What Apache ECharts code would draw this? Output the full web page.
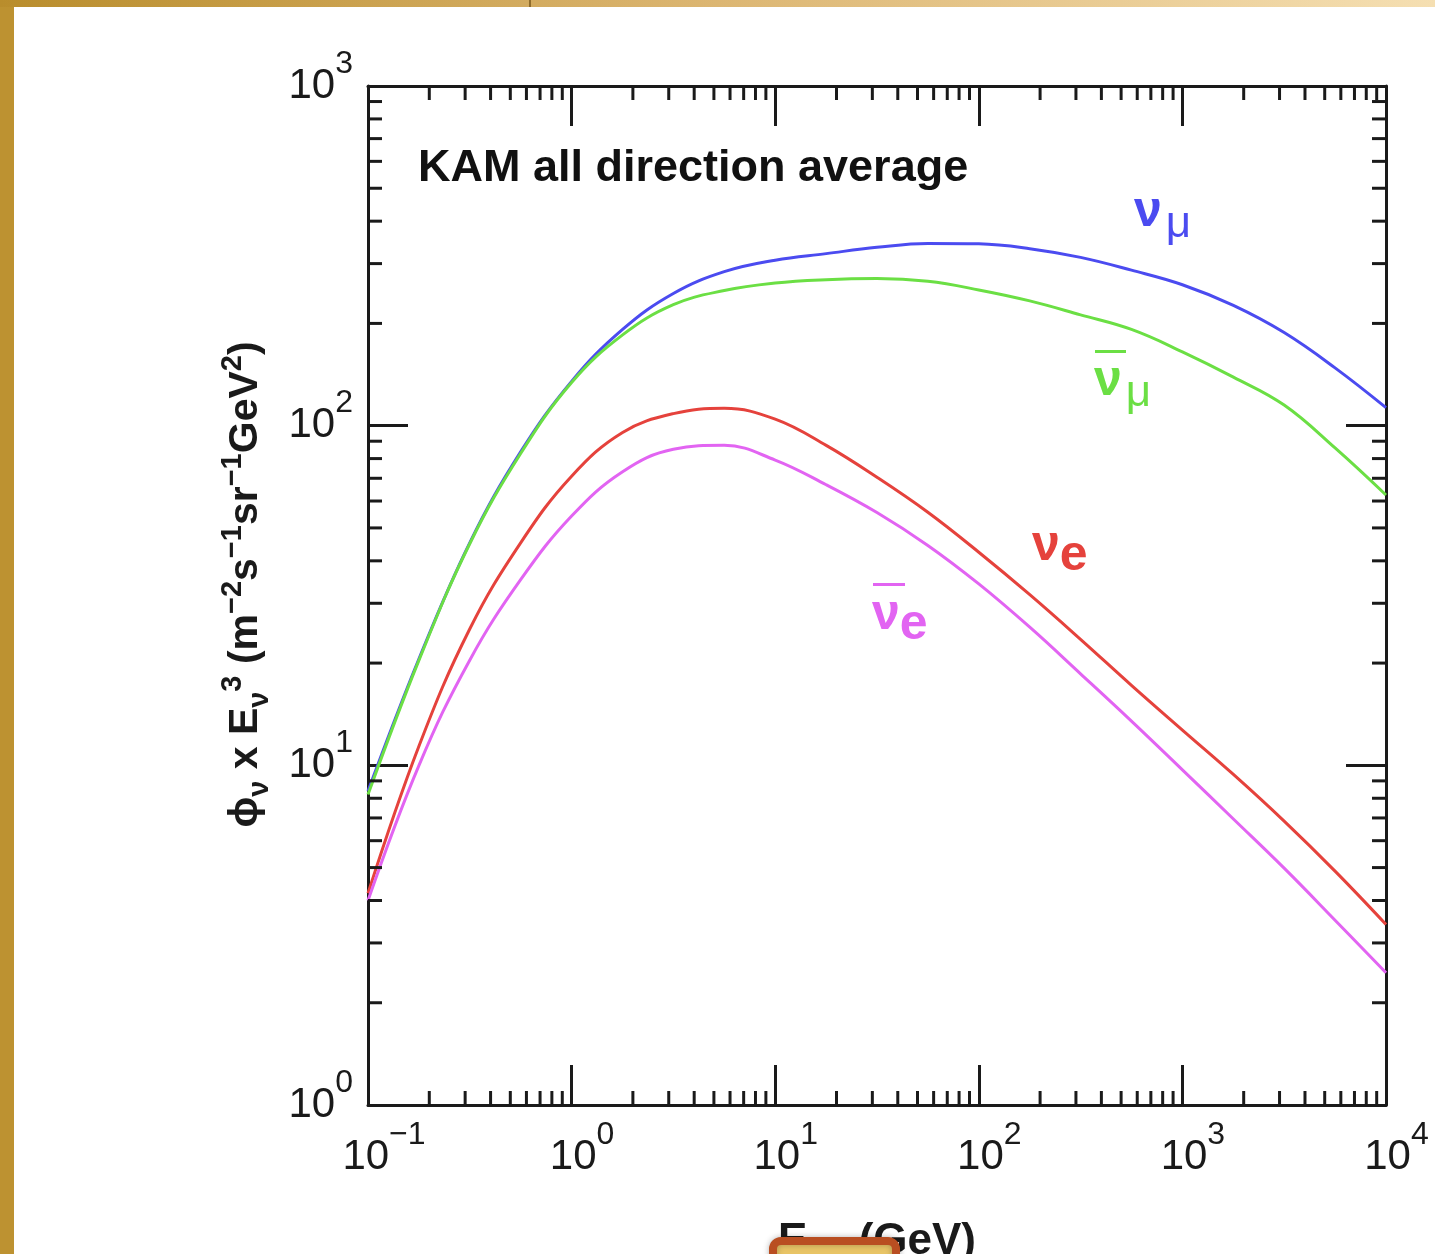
<!DOCTYPE html>
<html><head><meta charset="utf-8">
<script src="https://cdn.jsdelivr.net/npm/echarts@6/dist/echarts.min.js"></script>
<style>html,body{margin:0;padding:0;background:#fff;}#c{width:1435px;height:1254px;}</style>
</head><body><div id="c"></div>
<script>
// ---- data ----
const energies = [0.1, 0.178, 0.316, 0.562, 1, 1.78, 3.16, 5.62, 10, 17.8, 31.6, 56.2, 100, 178, 316, 562, 1000, 1780, 3160, 5620, 10000];
const numu    = [8.4, 20.6, 45.2, 83.7, 135, 192, 245, 284, 307, 321, 335, 344, 343, 332, 313, 287, 260, 226, 188, 148, 113];
const numubar = [8.2, 20.4, 44.9, 82.8, 134, 185, 227, 250, 263, 269, 271, 266, 251, 233, 212, 192, 165, 139, 115, 86, 62.5];
const nue     = [4.2, 11.4, 25.2, 45.2, 71.0, 95.5, 108.5, 112.5, 104.5, 87.5, 70.5, 55.6, 42.4, 31.8, 23.5, 17.2, 12.7, 9.4, 6.85, 4.88, 3.40];
const nuebar  = [4.0, 10.0, 20.4, 35.2, 54.2, 73.2, 85.2, 87.5, 79.2, 67.0, 55.5, 44.4, 34.2, 25.5, 18.6, 13.5, 9.7, 6.95, 4.98, 3.50, 2.45];
const xTickExp = ['\u22121', '0', '1', '2', '3', '4'];
const yTickExp = ['0', '1', '2', '3'];
const xMinorTicks = [0.2,0.3,0.4,0.5,0.6,0.7,0.8,0.9, 2,3,4,5,6,7,8,9, 20,30,40,50,60,70,80,90, 200,300,400,500,600,700,800,900, 2000,3000,4000,5000,6000,7000,8000,9000];
const yMinorTicks = [2,3,4,5,6,7,8,9, 20,30,40,50,60,70,80,90, 200,300,400,500,600,700,800,900];
const xMin = 0.1, xMax = 10000, yMin = 1, yMax = 1000;

const BLUE = '#4b4bf0', GREEN = '#6bdf44', RED = '#e5423c', MAG = '#e264f2';
const INK = '#1a1a1a';
const FONT = '"Liberation Sans", Arial, Helvetica, sans-serif';

const chart = echarts.init(document.getElementById('c'), null, {renderer: 'canvas'});

const tickRich = {
  sp: {width: 21, fontSize: 42, lineHeight: 76},
  sp2: {width: 32, fontSize: 42, lineHeight: 76},
  b: {fontSize: 42, fontFamily: FONT, color: INK, lineHeight: 76, verticalAlign: 'middle'},
  s: {fontSize: 32, fontFamily: FONT, color: INK, lineHeight: 32, verticalAlign: 'top'}
};

function axisCommon(extra) {
  return Object.assign({
    type: 'log', logBase: 10,
    axisLine: {show: true, onZero: false, lineStyle: {color: INK, width: 3}},
    axisTick: {show: true, inside: true, length: 40, lineStyle: {color: INK, width: 3}},
    minorTick: {show: false},
    splitLine: {show: false},
    minorSplitLine: {show: false}
  }, extra);
}

function minorSeries(values, dir) {
  return {
    type: 'custom', silent: true, clip: false, z: 6,
    xAxisIndex: 0, yAxisIndex: 0,
    data: values.map(v => dir === 'x' ? [v, yMin] : [xMin, v]),
    renderItem: function (params, api) {
      const style = {stroke: INK, lineWidth: 3};
      if (dir === 'x') {
        const v = api.value(0);
        const b = api.coord([v, yMin]);
        const t = api.coord([v, yMax]);
        return {type: 'group', children: [
          {type: 'line', shape: {x1: b[0], y1: b[1], x2: b[0], y2: b[1] - 14}, style: style},
          {type: 'line', shape: {x1: t[0], y1: t[1], x2: t[0], y2: t[1] + 14}, style: style}
        ]};
      } else {
        const v = api.value(1);
        const l = api.coord([xMin, v]);
        const r = api.coord([xMax, v]);
        return {type: 'group', children: [
          {type: 'line', shape: {x1: l[0], y1: l[1], x2: l[0] + 14, y2: l[1]}, style: style},
          {type: 'line', shape: {x1: r[0], y1: r[1], x2: r[0] - 14, y2: r[1]}, style: style}
        ]};
      }
    }
  };
}

function lineSeries(name, values, color) {
  return {
    name: name, type: 'line', xAxisIndex: 0, yAxisIndex: 0,
    data: energies.map((e, i) => [e, values[i]]),
    smooth: 0.4, showSymbol: false, symbol: 'none',
    lineStyle: {color: color, width: 3}, z: 4
  };
}

const curveLabelRich = (color) => ({
  n: {fontSize: 50, fontWeight: 'bold', fontFamily: FONT, fill: color, lineHeight: 60, verticalAlign: 'top'},
  s: {fontSize: 44, fontWeight: 'normal', fontFamily: FONT, fill: color, lineHeight: 44, verticalAlign: 'bottom', padding: [0, 0, 0, 4]},
  e: {fontSize: 50, fontWeight: 'bold', fontFamily: FONT, fill: color, lineHeight: 54, verticalAlign: 'bottom'}
});

const option = {
  backgroundColor: '#ffffff',
  animation: false,
  grid: {left: 368, top: 86, right: 49, bottom: 149, containLabel: false, outerBoundsMode: 'none'},
  xAxis: [
    axisCommon({
      position: 'bottom', min: xMin, max: xMax,
      axisLabel: {
        show: true, margin: 14, fontFamily: FONT, color: INK, rich: tickRich,
        formatter: function (v) {
          const i = Math.round(Math.log10(v)) + 1;
          const e = xTickExp[i];
          return (i === 0 ? '{sp2| }' : '{sp| }') + '{b|10}{s|' + e + '}';
        }
      },
      name: '{t|E}{sub|\u03bd}{t|  (GeV)}',
      nameLocation: 'middle', nameGap: 115,
      nameTextStyle: {
        rich: {
          t: {fontSize: 44, fontWeight: 'bold', fontFamily: FONT, color: INK, lineHeight: 50, verticalAlign: 'top'},
          sub: {fontSize: 34, fontWeight: 'bold', fontFamily: FONT, color: INK, lineHeight: 34, verticalAlign: 'bottom', padding: [0, 7, 0, 1]}
        }
      }
    }),
    axisCommon({position: 'top', min: xMin, max: xMax, axisLabel: {show: false}})
  ],
  yAxis: [
    axisCommon({
      position: 'left', min: yMin, max: yMax,
      axisLabel: {
        show: true, margin: 15, fontFamily: FONT, color: INK, rich: tickRich,
        formatter: function (v) {
          const i = Math.round(Math.log10(v));
          return '{b|10}{s|' + yTickExp[i] + '}';
        }
      },
      name: '{t|\u03d5}{sub|\u03bd}{t| x E}{sub|\u03bd}{sup|3}{t| (m}{sup|\u22122}{t|s}{sup|\u22121}{t|sr}{sup|\u22121}{t|GeV}{sup|2}{t|)}',
      nameLocation: 'middle', nameRotate: 90, nameGap: 94,
      nameTextStyle: {
        padding: [0, 0, 0, 22],
        rich: {
          t: {fontSize: 41, fontWeight: 'bold', fontFamily: FONT, color: INK, lineHeight: 56, verticalAlign: 'middle'},
          sup: {fontSize: 29, fontWeight: 'bold', fontFamily: FONT, color: INK, lineHeight: 29, verticalAlign: 'top'},
          sub: {fontSize: 29, fontWeight: 'bold', fontFamily: FONT, color: INK, lineHeight: 29, verticalAlign: 'bottom'}
        }
      }
    }),
    axisCommon({position: 'right', min: yMin, max: yMax, axisLabel: {show: false}})
  ],
  series: [
    lineSeries('\u03bd\u03bc', numu, BLUE),
    lineSeries('anti-\u03bd\u03bc', numubar, GREEN),
    lineSeries('\u03bde', nue, RED),
    lineSeries('anti-\u03bde', nuebar, MAG),
    minorSeries(xMinorTicks, 'x'),
    minorSeries(yMinorTicks, 'y')
  ],
  graphic: [
    {type: 'rect', z: 100, shape: {x: 0, y: 0, width: 14, height: 1254}, style: {fill: '#bd9231'}},
    {type: 'rect', z: 100, shape: {x: 0, y: 0, width: 1435, height: 7},
      style: {fill: new echarts.graphic.LinearGradient(0, 0, 1, 0, [{offset: 0, color: '#b98d2c'}, {offset: 0.5, color: '#dcb672'}, {offset: 1, color: '#f5dfb2'}])}},
    {type: 'rect', z: 101, shape: {x: 529, y: 0, width: 2, height: 7}, style: {fill: '#8f6c2c'}},
    {type: 'text', z: 50, x: 418, y: 146,
      style: {text: 'KAM all direction average', fontSize: 45, fontWeight: 'bold', fontFamily: FONT, fill: '#111'}},
    {type: 'text', z: 50, x: 1134, y: 187, style: {text: '{n|\u03bd}{s|\u03bc}', rich: curveLabelRich(BLUE)}},
    {type: 'text', z: 50, x: 1094, y: 356, style: {text: '{n|\u03bd}{s|\u03bc}', rich: curveLabelRich(GREEN)}},
    {type: 'rect', z: 50, shape: {x: 1095, y: 350, width: 31, height: 3}, style: {fill: GREEN}},
    {type: 'text', z: 50, x: 1032, y: 521, style: {text: '{n|\u03bd}{e|e}', rich: curveLabelRich(RED)}},
    {type: 'text', z: 50, x: 872, y: 590, style: {text: '{n|\u03bd}{e|e}', rich: curveLabelRich(MAG)}},
    {type: 'rect', z: 50, shape: {x: 873, y: 583, width: 32, height: 3}, style: {fill: MAG}},
    {type: 'rect', z: 120, shape: {x: 773, y: 1241, width: 123, height: 40, r: 8},
      style: {fill: '#e8c466', stroke: '#b94e21', lineWidth: 8, shadowBlur: 6, shadowColor: 'rgba(0,0,0,0.25)'}}
  ]
};
chart.setOption(option);
</script></body></html>
